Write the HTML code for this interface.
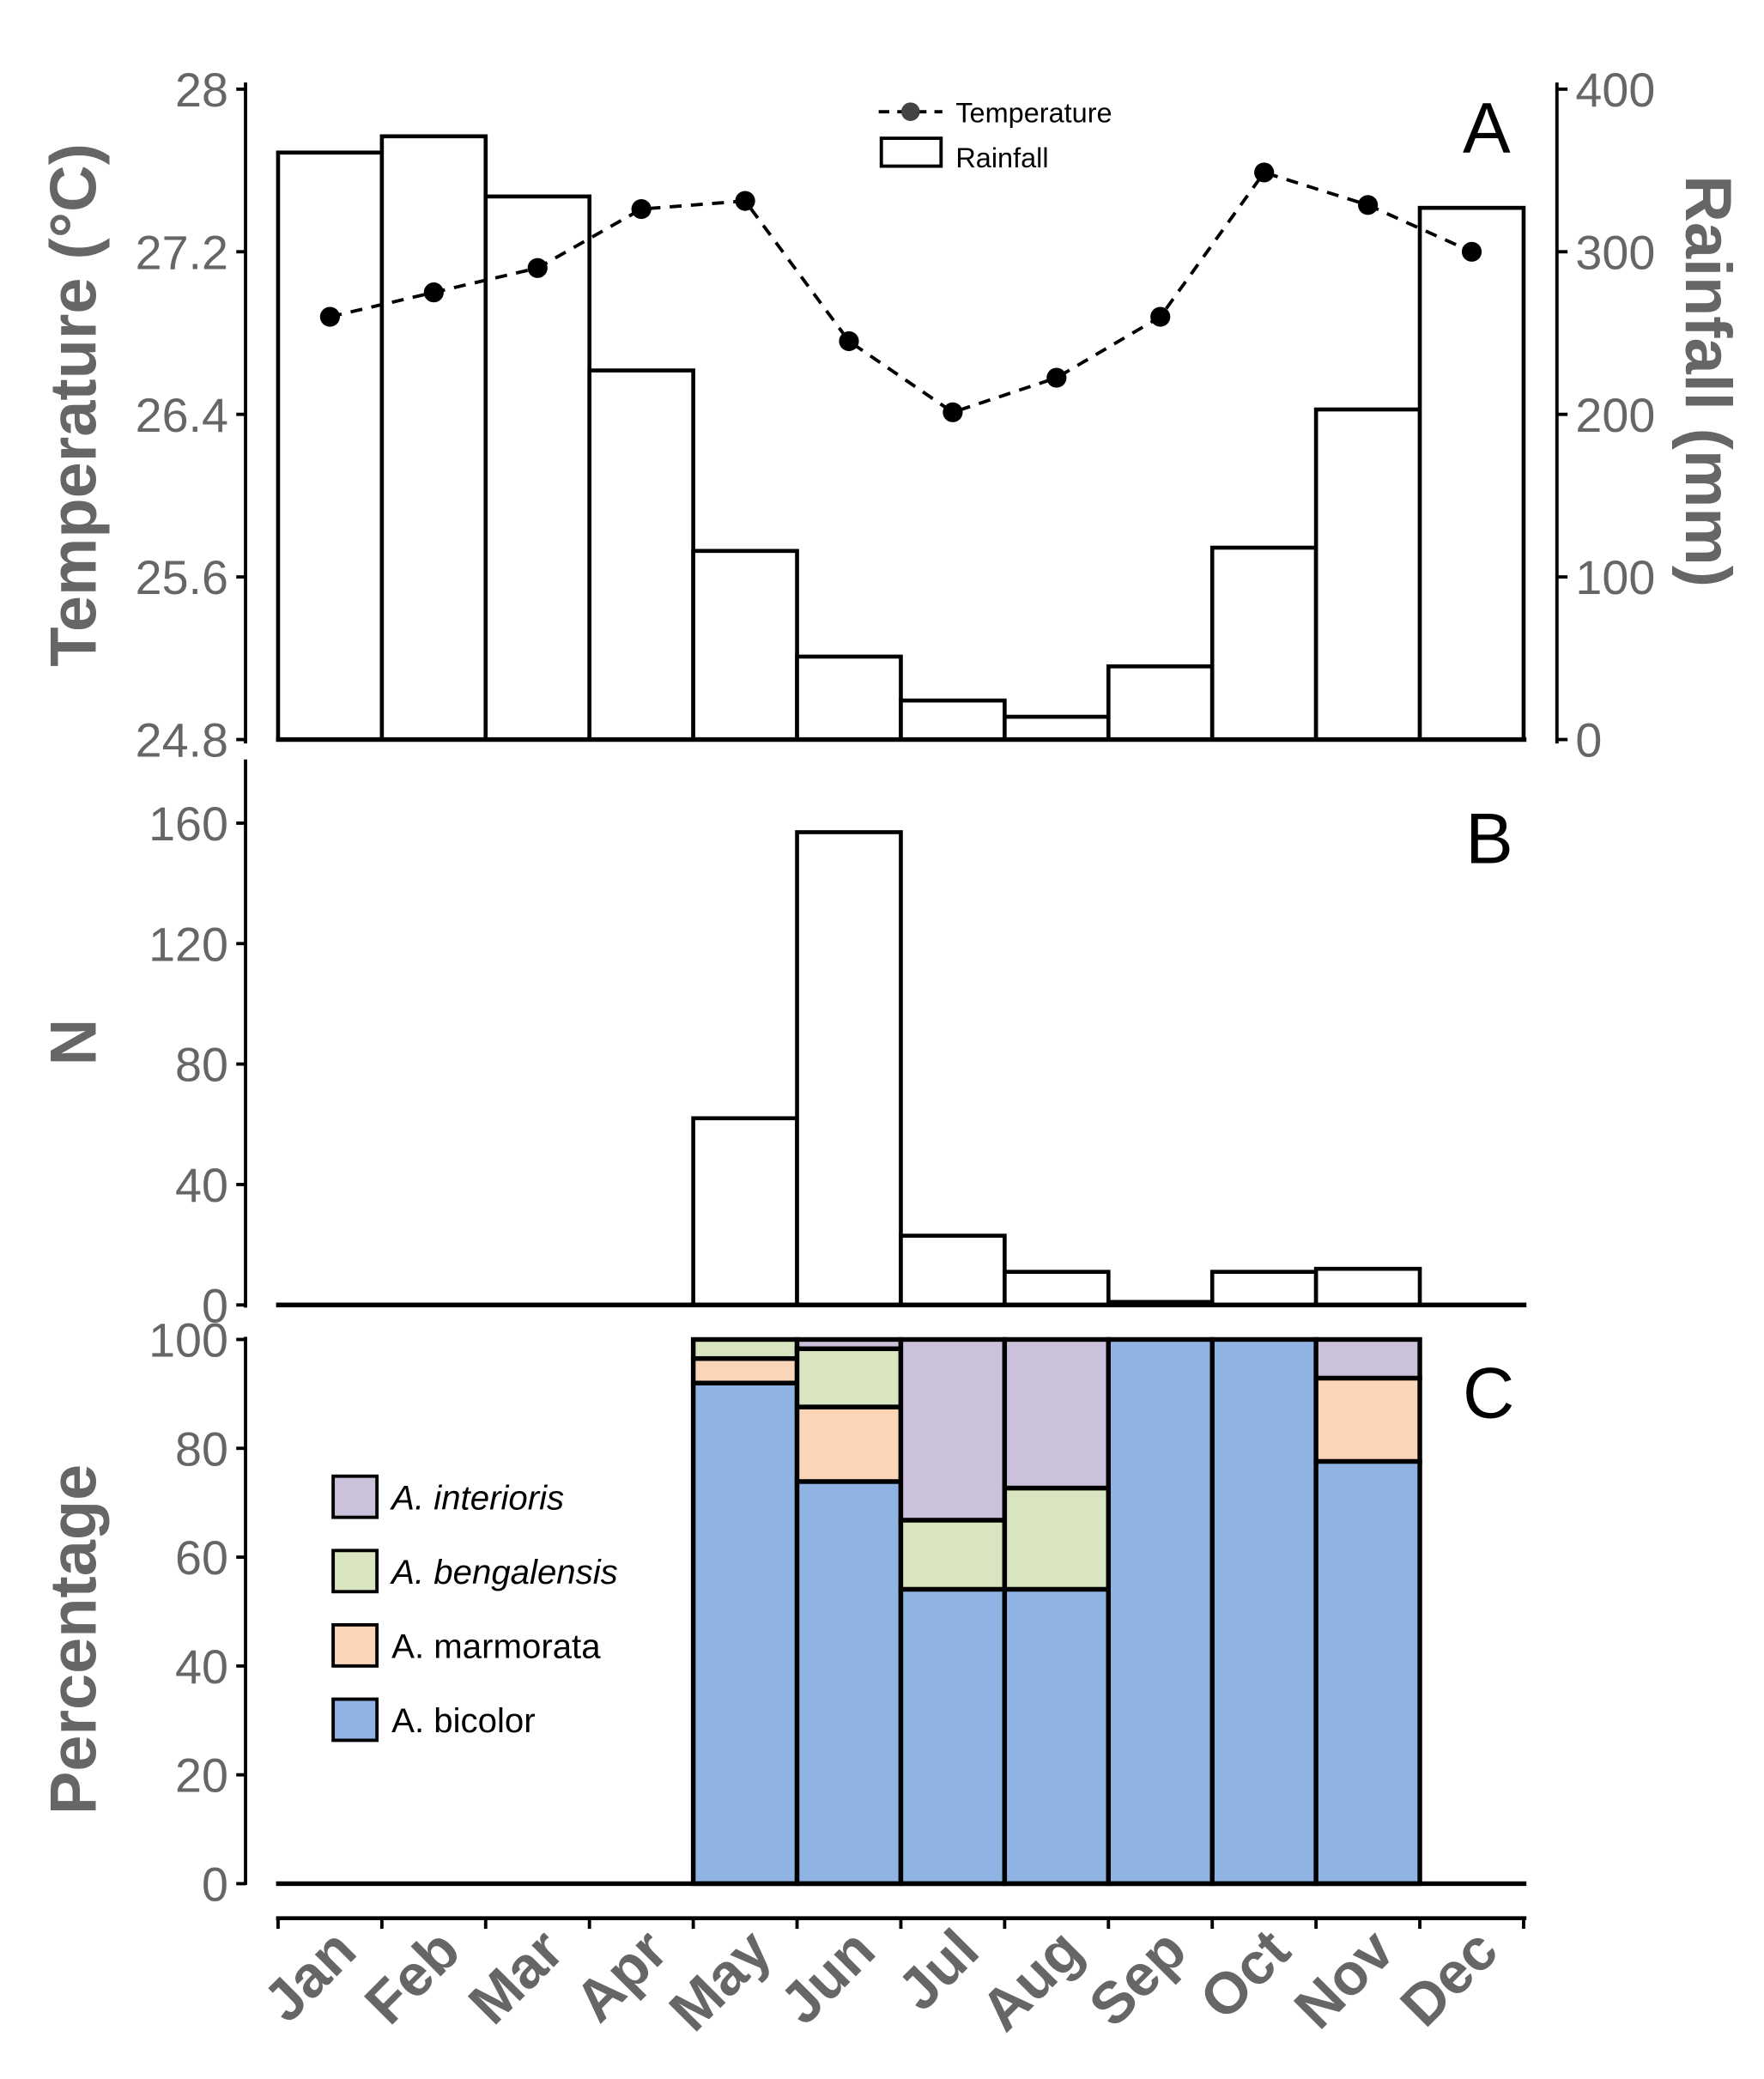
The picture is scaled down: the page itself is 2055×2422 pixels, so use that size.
<!DOCTYPE html>
<html><head><meta charset="utf-8"><style>
html,body{margin:0;padding:0;background:#fff;}
svg{display:block;}
</style></head><body>
<svg id="chart" xmlns="http://www.w3.org/2000/svg" width="2055" height="2422" viewBox="0 0 1329 1566" font-family="'Liberation Sans', sans-serif">
</svg>
<script>
const months = ['Jan','Feb','Mar','Apr','May','Jun','Jul','Aug','Sep','Oct','Nov','Dec'];
const rainfall = [361,371,334,227,116,51,24,14,45,118,203,327];
const temperature = [26.88,27.00,27.12,27.41,27.45,26.76,26.41,26.58,26.88,27.59,27.43,27.20];
const countN = [0,0,0,0,62,157,23,11,1,11,12,0];
const pctBicolor = [0,0,0,0,92,73.9,54.1,54.1,100,100,77.6,0];
const pctMarmorata = [0,0,0,0,4.5,13.7,0,0,0,0,15.3,0];
const pctBengalensis = [0,0,0,0,3.5,10.7,12.7,18.6,0,0,0,0];
const pctInterioris = [0,0,0,0,0,1.7,33.2,27.3,0,0,7.1,0];
const tempTicks = [24.8,25.6,26.4,27.2,28];
const rainTicks = [0,100,200,300,400];
const nTicks = [0,40,80,120,160];
const pctTicks = [0,20,40,60,80,100];

const NS='http://www.w3.org/2000/svg';
const svg=document.getElementById('chart');
function el(tag,attrs,parent){const e=document.createElementNS(NS,tag);for(const k in attrs)e.setAttribute(k,attrs[k]);(parent||svg).appendChild(e);return e;}
function txt(s,attrs,parent){const e=el('text',attrs,parent);e.textContent=s;return e;}

const X0=209.5, BW=78.2;
const xl=i=>X0+i*BW, xc=i=>X0+(i+0.5)*BW;
const yTemp=v=>557-(v-24.8)/3.2*490;
const yRain=v=>557-v/400*490;
const yN=v=>983-v/160*363;
const yPct=v=>1419-v/100*410;
const GRAY='#666';

// ---------- Panel A ----------
const gA=el('g',{});


rainfall.forEach((v,i)=>{
  const r=el('rect',{x:xl(i),y:yRain(v),width:BW,height:557-yRain(v),fill:'#fff',stroke:'#000','stroke-width':3},gA);
  
  
});
el('line',{x1:208,x2:1150,y1:557,y2:557,stroke:'#000','stroke-width':3.5},gA);
const tl=el('polyline',{points:temperature.map((v,i)=>xc(i)+','+yTemp(v)).join(' '),fill:'none',stroke:'#000','stroke-width':2.5,'stroke-dasharray':'9,7'},gA);


temperature.forEach((v,i)=>{
  const c=el('circle',{cx:xc(i),cy:yTemp(v),r:7.5,fill:'#000'},gA);
  
  
});
el('line',{x1:185,x2:185,y1:62,y2:560,stroke:'#000','stroke-width':2.5},gA);
tempTicks.forEach(v=>{
  el('line',{x1:178,x2:185,y1:yTemp(v),y2:yTemp(v),stroke:'#000','stroke-width':2.5},gA);
  const t=txt(v.toFixed(v===28?0:1),{x:172,y:yTemp(v)+13,'text-anchor':'end','font-size':36,fill:GRAY},gA);
  
  
});
el('line',{x1:1173,x2:1173,y1:62,y2:560,stroke:'#000','stroke-width':2.5},gA);
rainTicks.forEach(v=>{
  el('line',{x1:1173,x2:1181,y1:yRain(v),y2:yRain(v),stroke:'#000','stroke-width':2.5},gA);
  const t=txt(String(v),{x:1187,y:yRain(v)+13,'font-size':36,fill:GRAY},gA);
  
  
});
</script>
<script>
(function(){
const t1=txt('Temperature (°C)',{transform:'translate(72,305) rotate(-90)','text-anchor':'middle','font-size':49,'font-weight':'bold',fill:GRAY});


const t2=txt('Rainfall (mm)',{transform:'translate(1270,287) rotate(90)','text-anchor':'middle','font-size':49,'font-weight':'bold',fill:GRAY});


const la=txt('A',{x:1102,y:115,'font-size':54,fill:'#000'});


const lg=el('g',{});


el('line',{x1:662,x2:710,y1:84,y2:84,stroke:'#000','stroke-width':2.5,'stroke-dasharray':'8,6'},lg);
el('circle',{cx:686,cy:84,r:7,fill:'#444'},lg);
txt('Temperature',{x:720,y:92,'font-size':21,fill:'#000'},lg);
el('rect',{x:664,y:104,width:45,height:21,fill:'#fff',stroke:'#000','stroke-width':2.5},lg);
txt('Rainfall',{x:720,y:126,'font-size':21,fill:'#000'},lg);

const gB=el('g',{});


countN.forEach((v,i)=>{
  if(v<=0)return;
  const r=el('rect',{x:xl(i),y:yN(v),width:BW,height:983-yN(v),fill:'#fff',stroke:'#000','stroke-width':3},gB);
  
  
});
el('line',{x1:208,x2:1150,y1:983,y2:983,stroke:'#000','stroke-width':3.5},gB);
el('line',{x1:185,x2:185,y1:572,y2:985,stroke:'#000','stroke-width':2.5},gB);
nTicks.forEach(v=>{
  el('line',{x1:178,x2:185,y1:yN(v),y2:yN(v),stroke:'#000','stroke-width':2.5},gB);
  const t=txt(String(v),{x:172,y:yN(v)+13,'text-anchor':'end','font-size':36,fill:GRAY},gB);
  
  
});
const tN=txt('N',{transform:'translate(72,785) rotate(-90)','text-anchor':'middle','font-size':49,'font-weight':'bold',fill:GRAY});


const lb=txt('B',{x:1104,y:650,'font-size':54,fill:'#000'});



const gC=el('g',{});


const series=[['bicolor',pctBicolor,'#8fb3e2'],['marmorata',pctMarmorata,'#fbd5b7'],['bengalensis',pctBengalensis,'#d9e4c0'],['interioris',pctInterioris,'#cbc1db']];
months.forEach((m,i)=>{
  let base=0;
  series.forEach(([name,arr,col])=>{
    const v=arr[i]; if(v<=0)return;
    const r=el('rect',{x:xl(i),y:yPct(base+v),width:BW,height:yPct(base)-yPct(base+v),fill:col,stroke:'#000','stroke-width':3.5},gC);
    
    
    base+=v;
  });
});
el('line',{x1:208,x2:1150,y1:1419,y2:1419,stroke:'#000','stroke-width':3.5},gC);
el('line',{x1:185,x2:185,y1:1007,y2:1420,stroke:'#000','stroke-width':2.5},gC);
pctTicks.forEach(v=>{
  el('line',{x1:178,x2:185,y1:yPct(v),y2:yPct(v),stroke:'#000','stroke-width':2.5},gC);
  const t=txt(String(v),{x:172,y:yPct(v)+13,'text-anchor':'end','font-size':36,fill:GRAY},gC);
  
  
});
const tP=txt('Percentage',{transform:'translate(72,1235) rotate(-90)','text-anchor':'middle','font-size':49,'font-weight':'bold',fill:GRAY});


const lc=txt('C',{x:1102,y:1068,'font-size':54,fill:'#000'});


const legItems=[['A. interioris','#cbc1db',1112,true],['A. bengalensis','#d9e4c0',1168,true],['A. marmorata','#fbd5b7',1224,false],['A. bicolor','#8fb3e2',1280,false]];
legItems.forEach(([lab,col,y,it])=>{
  const g=el('g',{});
  
  
  el('rect',{x:251,y:y,width:33,height:31,fill:col,stroke:'#000','stroke-width':2.5},g);
  txt(lab,{x:295,y:y+25,'font-size':26,'font-style':it?'italic':'normal',fill:'#000'},g);
});
const gX=el('g',{});


el('line',{x1:208,x2:1150,y1:1445,y2:1445,stroke:'#000','stroke-width':3},gX);
for(let i=0;i<=12;i++) el('line',{x1:xl(i),x2:xl(i),y1:1445,y2:1453,stroke:'#000','stroke-width':2.5},gX);
months.forEach((m,i)=>{
  const x=xc(i)+22, y=1472;
  const t=txt(m,{transform:`translate(${x},${y}) rotate(-45)`,'text-anchor':'end','font-size':44,'font-weight':'bold',fill:GRAY},gX);
  
  
});
})();
</script>
</body></html>
